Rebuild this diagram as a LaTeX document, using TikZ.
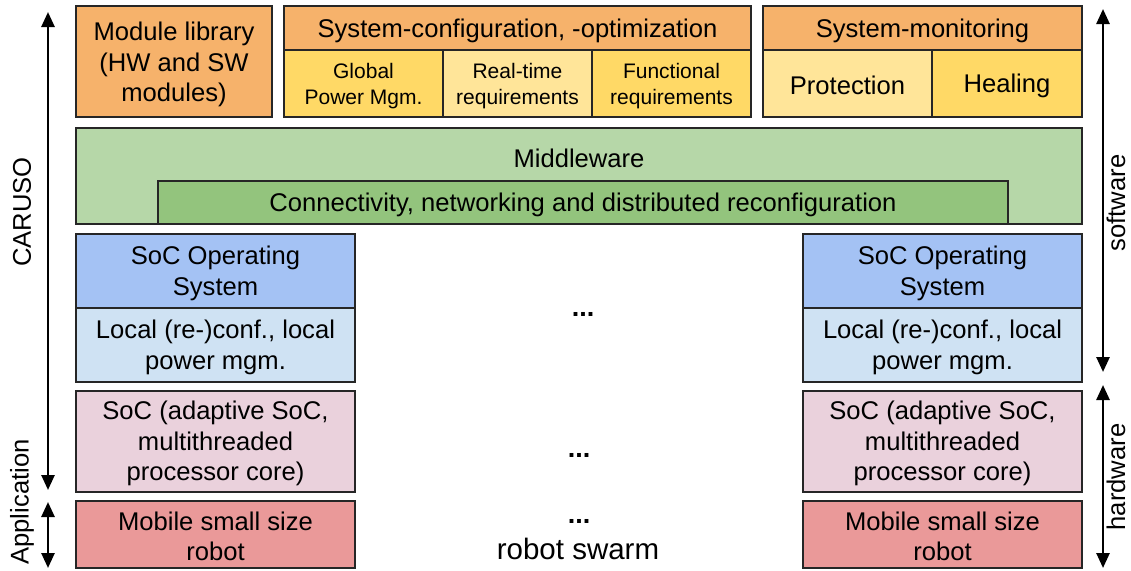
\documentclass[tikz,border=0pt]{standalone}
\usepackage{fontspec}
\setmainfont{Liberation Sans}
\usetikzlibrary{arrows.meta}
\definecolor{corange}{HTML}{F6B26B}
\definecolor{cyellow}{HTML}{FFD966}
\definecolor{clyellow}{HTML}{FFE599}
\definecolor{clgreen}{HTML}{B6D7A8}
\definecolor{cgreen}{HTML}{93C47D}
\definecolor{cblue}{HTML}{A4C2F4}
\definecolor{clblue}{HTML}{CFE2F3}
\definecolor{cpink}{HTML}{EAD1DC}
\definecolor{cred}{HTML}{EA9999}
\tikzset{
  box/.style={draw=black!85, line width=1.3pt, inner sep=0pt},
  bigtxt/.style={font=\fontsize{25.6}{30.5}\selectfont, align=center, yshift=-1.5pt},
  smalltxt/.style={font=\fontsize{21}{26}\selectfont, align=center, yshift=-2pt},
  dots/.style={font=\fontsize{27}{30}\selectfont\bfseries},
  daxis/.style={line width=2.6pt, {Triangle[length=15pt,width=13pt]}-{Triangle[length=15pt,width=13pt]}},
  vlab/.style={font=\fontsize{25.6}{29.5}\selectfont, rotate=90, inner sep=0pt}
}
\begin{document}
\begin{tikzpicture}[x=1pt,y=-1pt]
\useasboundingbox (0,0) rectangle (1131,570);
% top row
\draw[box, fill=corange] (76,6) rectangle (272,117);
\node[bigtxt] (modlib) at (174,63) {Module library\\(HW and SW\\modules)};
\draw[box, fill=corange] (284,6) rectangle (751,50);
\node[bigtxt] (syscfg) at (517.5,29) {System-configuration, -optimization};
\draw[box, fill=cyellow] (284,50) rectangle (443,117);
\node[smalltxt] (gpm) at (363.5,84) {Global\\Power Mgm.};
\draw[box, fill=clyellow] (443,50) rectangle (592,117);
\node[smalltxt] (rtr) at (517.5,84) {Real-time\\requirements};
\draw[box, fill=cyellow] (592,50) rectangle (751,117);
\node[smalltxt] (fr) at (671.5,84) {Functional\\requirements};
\draw[box, fill=corange] (763,6) rectangle (1082,50);
\node[bigtxt] (sysmon) at (922.5,29) {System-monitoring};
\draw[box, fill=clyellow] (763,50) rectangle (932,117);
\node[bigtxt] (prot) at (847.5,84) {Protection};
\draw[box, fill=cyellow] (932,50) rectangle (1082,117);
\node[bigtxt] (heal) at (1007,84) {Healing};
% middleware
\draw[box, fill=clgreen] (76,128) rectangle (1082,224);
\node[bigtxt] (mw) at (579,157) {Middleware};
\draw[box, fill=cgreen] (158,181) rectangle (1008,224);
\node[bigtxt] (conn) at (583,203) {Connectivity, networking and distributed reconfiguration};
% left column
\draw[box, fill=cblue] (76,234) rectangle (355,308);
\node[bigtxt] (osL) at (215.5,272) {SoC Operating\\System};
\draw[box, fill=clblue] (76,308) rectangle (355,382);
\node[bigtxt] (lcL) at (215.5,346) {Local (re-)conf., local\\power mgm.};
\draw[box, fill=cpink] (76,391) rectangle (355,492);
\node[bigtxt] (socL) at (215.5,442) {SoC (adaptive SoC,\\multithreaded\\processor core)};
\draw[box, fill=cred] (76,501) rectangle (355,568);
\node[bigtxt] (robL) at (215.5,535) {Mobile small size\\robot};
% right column
\draw[box, fill=cblue] (803,234) rectangle (1082,308);
\node[bigtxt] (osR) at (942.5,272) {SoC Operating\\System};
\draw[box, fill=clblue] (803,308) rectangle (1082,382);
\node[bigtxt] (lcR) at (942.5,346) {Local (re-)conf., local\\power mgm.};
\draw[box, fill=cpink] (803,391) rectangle (1082,492);
\node[bigtxt] (socR) at (942.5,442) {SoC (adaptive SoC,\\multithreaded\\processor core)};
\draw[box, fill=cred] (803,501) rectangle (1082,568);
\node[bigtxt] (robR) at (942.5,535) {Mobile small size\\robot};
% dots
\node[dots] (d1) at (583,314) {...};
\node[dots] (d2) at (579,455) {...};
\node[dots] (d3) at (579,521) {...};
\node[font=\fontsize{29.5}{33}\selectfont] (swarm) at (578,549) {robot swarm};
% axes
\coordinate (cT) at (48,12);
\coordinate (cB) at (48,490);
\coordinate (aT) at (48,502);
\coordinate (aB) at (48,568);
\coordinate (sT) at (1103,9);
\coordinate (sB) at (1103,372);
\coordinate (hT) at (1103,385);
\coordinate (hB) at (1103,568);
\draw[daxis] (cT) -- (cB);
\draw[daxis] (aT) -- (aB);
\draw[daxis] (sT) -- (sB);
\draw[daxis] (hT) -- (hB);
\node[vlab] (caruso) at (22,212) {CARUSO};
\node[vlab] (appl) at (22,502) {Application};
\node[vlab] (soft) at (1116,203) {software};
\node[vlab] (hard) at (1116,477) {hardware};
\end{tikzpicture}
\end{document}
